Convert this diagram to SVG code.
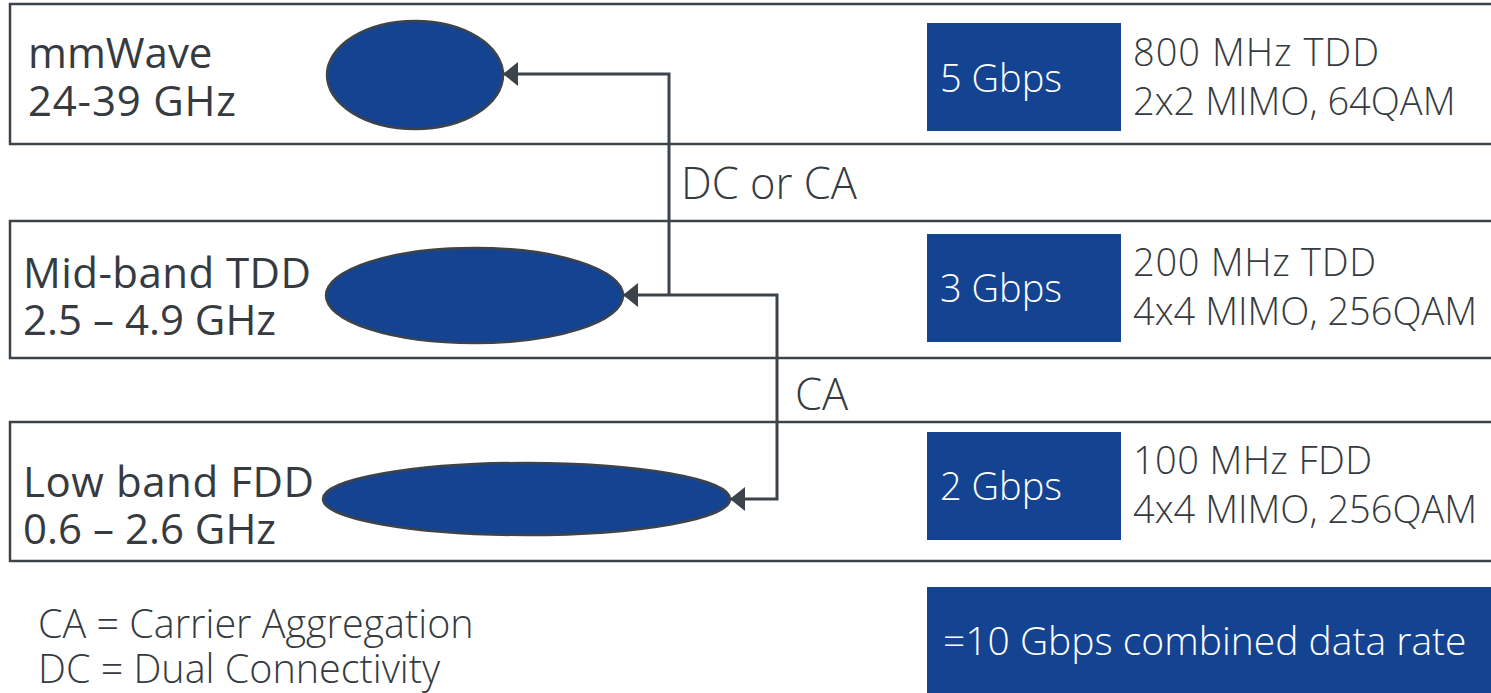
<svg xmlns="http://www.w3.org/2000/svg" width="1491" height="693" viewBox="0 0 1491 693">
<defs>
<style>
.band{fill:#ffffff;stroke:#3d434b;stroke-width:2.5}
.oval{fill:#144391;stroke:#3d434b;stroke-width:2.5}
.box{fill:#144391}
.conn{fill:none;stroke:#3d434b;stroke-width:3}
text{font-family:"Open Sans","Liberation Sans",sans-serif;fill:#363b41}
.lbl{font-size:42px}
.spec{font-size:38px;font-weight:300}
.rate{font-size:38px;font-weight:300;fill:#ffffff}
.cl{font-size:43.5px;font-weight:300}
.foot{font-size:39.5px;font-weight:300}
</style>
<marker id="arr" markerUnits="userSpaceOnUse" viewBox="0 -12 15 24" refX="15" refY="0" markerWidth="15" markerHeight="24" orient="auto-start-reverse">
<path d="M0,-12 L15,0 L0,12 z" fill="#3d434b"/>
</marker>
</defs>
<rect width="1491" height="693" fill="#ffffff"/>
<g id="band-mmwave">
<rect class="band" x="10" y="4" width="1500" height="140"/>
<text class="lbl" x="28" y="68">mmWave</text>
<text class="lbl" x="28" y="116" textLength="208" lengthAdjust="spacing">24-39 GHz</text>
<ellipse class="oval" cx="415" cy="75" rx="88" ry="54"/>
</g>
<g id="band-mid">
<rect class="band" x="10" y="221" width="1500" height="137"/>
<text class="lbl" x="23" y="288" textLength="288" lengthAdjust="spacing">Mid-band TDD</text>
<text class="lbl" x="23" y="335">2.5 – 4.9 GHz</text>
<ellipse class="oval" cx="474.5" cy="295.5" rx="148.5" ry="47.5"/>
</g>
<g id="band-low">
<rect class="band" x="10" y="422" width="1500" height="139"/>
<text class="lbl" x="23" y="497" textLength="291" lengthAdjust="spacing">Low band FDD</text>
<text class="lbl" x="23" y="544">0.6 – 2.6 GHz</text>
<ellipse class="oval" cx="526.5" cy="499" rx="203.5" ry="36"/>
</g>
<g id="rate-mmwave">
<rect class="box" x="927" y="23" width="194" height="108"/>
<text class="rate" x="940" y="92">5 Gbps</text>
<text class="spec" x="1133" y="66" textLength="246" lengthAdjust="spacing">800 MHz TDD</text>
<text class="spec" x="1133" y="115">2x2 MIMO, 64QAM</text>
</g>
<g id="rate-mid">
<rect class="box" x="927" y="234" width="194" height="108"/>
<text class="rate" x="940" y="302">3 Gbps</text>
<text class="spec" x="1133" y="276" textLength="243" lengthAdjust="spacing">200 MHz TDD</text>
<text class="spec" x="1133" y="325">4x4 MIMO, 256QAM</text>
</g>
<g id="rate-low">
<rect class="box" x="927" y="432" width="194" height="108"/>
<text class="rate" x="940" y="500">2 Gbps</text>
<text class="spec" x="1133" y="474" textLength="239" lengthAdjust="spacing">100 MHz FDD</text>
<text class="spec" x="1133" y="523">4x4 MIMO, 256QAM</text>
</g>
<g id="combined">
<rect class="box" x="927" y="587" width="570" height="110"/>
<text class="rate" x="943" y="655" style="font-size:39px">=10 Gbps combined data rate</text>
</g>
<g id="legend">
<text class="foot" x="38" y="638">CA = Carrier Aggregation</text>
<text class="foot" x="38" y="683">DC = Dual Connectivity</text>
</g>
<g id="connectors">
<path class="conn" d="M669,295 V74 H503" marker-end="url(#arr)"/>
<path class="conn" d="M623,295 H777 V499 H730" marker-start="url(#arr)" marker-end="url(#arr)"/>
<text class="cl" x="681" y="199">DC or CA</text>
<text class="cl" x="795" y="410">CA</text>
</g>
</svg>
